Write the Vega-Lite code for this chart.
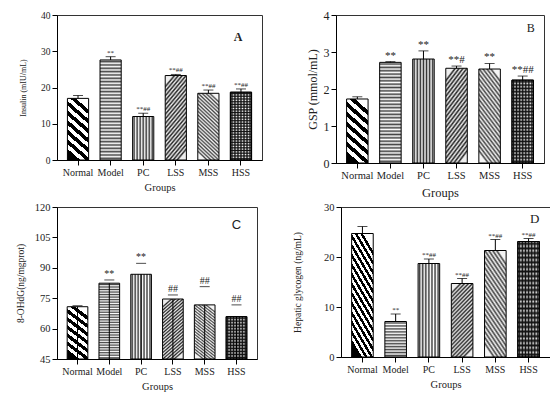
{
"$schema": "https://vega.github.io/schema/vega-lite/v6.json",
"padding": {"left": 8, "top": 8, "right": 2, "bottom": 2},
"background": "#ffffff",
"spacing": 1,
"vconcat": [
{"hconcat": [
{
"width": 205, "height": 145,
"data": {"values": [
{"group": "Normal", "value": 17.0, "upper": 17.8, "sig": ""},
{"group": "Model", "value": 27.6, "upper": 28.5, "sig": "**"},
{"group": "PC", "value": 12.0, "upper": 12.9, "sig": "**##"},
{"group": "LSS", "value": 23.3, "upper": 23.6, "sig": "**##"},
{"group": "MSS", "value": 18.4, "upper": 19.3, "sig": "**##"},
{"group": "HSS", "value": 18.7, "upper": 19.6, "sig": "**##"}
]},
"encoding": {
"x": {"field": "group", "type": "nominal", "sort": null, "scale": {"domain": ["Normal","Model","PC","LSS","MSS","HSS"], "paddingInner": 0.35, "paddingOuter": 0.32}, "axis": {"title": "Groups", "labelAngle": 0, "labelFontSize": 10, "titleFontSize": 10.5, "labelPadding": 2, "titlePadding": 5}},
"y": {"field": "value", "type": "quantitative", "scale": {"domain": [0, 40], "nice": false}, "title": [" ", "Insulin (mIU/mL)"], "axis": {"values": [0,10,20,30,40], "labelFontSize": 9.5, "titleFontSize": 8, "titleLineHeight": 11, "titlePadding": 13, "labelPadding": 2}}
},
"layer": [
{"transform": [{"filter": "datum.group === 'Normal'"}], "mark": {"type": "bar", "style": "pN"}},
{"transform": [{"filter": "datum.group === 'Model'"}], "mark": {"type": "bar", "style": "pM"}},
{"transform": [{"filter": "datum.group === 'PC'"}], "mark": {"type": "bar", "style": "pP"}},
{"transform": [{"filter": "datum.group === 'LSS'"}], "mark": {"type": "bar", "style": "pL"}},
{"transform": [{"filter": "datum.group === 'MSS'"}], "mark": {"type": "bar", "style": "pMS"}},
{"transform": [{"filter": "datum.group === 'HSS'"}], "mark": {"type": "bar", "style": "pH"}},
{"transform": [{"filter": "datum.group === 'HSS'"}], "mark": {"type": "bar", "style": "pH2"}},
{"mark": {"type": "rule", "color": "#000", "strokeWidth": 1}, "encoding": {"y2": {"field": "upper"}}},
{"mark": {"type": "tick", "color": "#000", "thickness": 1, "size": 10}, "encoding": {"y": {"field": "upper", "type": "quantitative", "scale": {"domain": [0, 40], "nice": false}, "title": [" ", "Insulin (mIU/mL)"]}}},
{"mark": {"type": "text", "baseline": "bottom", "dy": -1, "fontSize": 7, "color": "#222"}, "encoding": {"y": {"field": "upper", "type": "quantitative", "scale": {"domain": [0, 40], "nice": false}, "title": [" ", "Insulin (mIU/mL)"]}, "text": {"field": "sig"}}},
{"transform": [{"filter": "datum.group === 'HSS'"}], "mark": {"type": "text", "fontSize": 12, "fontWeight": "bold", "color": "#222", "dx": -3}, "encoding": {"y": {"datum": 33.9, "type": "quantitative", "scale": {"domain": [0, 40], "nice": false}, "title": [" ", "Insulin (mIU/mL)"]}, "text": {"value": "A"}}}
]
},
{
"width": 208, "height": 148,
"data": {"values": [
{"group": "Normal", "value": 1.73, "upper": 1.79, "sig": ""},
{"group": "Model", "value": 2.72, "upper": 2.74, "sig": "**"},
{"group": "PC", "value": 2.81, "upper": 3.03, "sig": "**"},
{"group": "LSS", "value": 2.56, "upper": 2.62, "sig": "**#"},
{"group": "MSS", "value": 2.54, "upper": 2.69, "sig": "**"},
{"group": "HSS", "value": 2.24, "upper": 2.35, "sig": "**##"}
]},
"encoding": {
"x": {"field": "group", "type": "nominal", "sort": null, "scale": {"domain": ["Normal","Model","PC","LSS","MSS","HSS"], "paddingInner": 0.35, "paddingOuter": 0.32}, "axis": {"title": "Groups", "labelAngle": 0, "labelFontSize": 10.5, "titleFontSize": 12.5, "labelPadding": 2, "titlePadding": 6}},
"y": {"field": "value", "type": "quantitative", "scale": {"domain": [0, 4], "nice": false}, "title": "GSP (mmol/mL)", "axis": {"values": [0,1,2,3,4], "labelFontSize": 12, "titleFontSize": 12, "titlePadding": 4, "labelPadding": 2}}
},
"layer": [
{"transform": [{"filter": "datum.group === 'Normal'"}], "mark": {"type": "bar", "style": "pN"}},
{"transform": [{"filter": "datum.group === 'Model'"}], "mark": {"type": "bar", "style": "pM"}},
{"transform": [{"filter": "datum.group === 'PC'"}], "mark": {"type": "bar", "style": "pP"}},
{"transform": [{"filter": "datum.group === 'LSS'"}], "mark": {"type": "bar", "style": "pL"}},
{"transform": [{"filter": "datum.group === 'MSS'"}], "mark": {"type": "bar", "style": "pMS"}},
{"transform": [{"filter": "datum.group === 'HSS'"}], "mark": {"type": "bar", "style": "pH"}},
{"transform": [{"filter": "datum.group === 'HSS'"}], "mark": {"type": "bar", "style": "pH2"}},
{"mark": {"type": "rule", "color": "#000", "strokeWidth": 1}, "encoding": {"y2": {"field": "upper"}}},
{"mark": {"type": "tick", "color": "#000", "thickness": 1, "size": 10}, "encoding": {"y": {"field": "upper", "type": "quantitative", "scale": {"domain": [0, 4], "nice": false}, "title": "GSP (mmol/mL)"}}},
{"mark": {"type": "text", "baseline": "bottom", "dy": -1, "fontSize": 11, "color": "#222"}, "encoding": {"y": {"field": "upper", "type": "quantitative", "scale": {"domain": [0, 4], "nice": false}, "title": "GSP (mmol/mL)"}, "text": {"field": "sig"}}},
{"transform": [{"filter": "datum.group === 'HSS'"}], "mark": {"type": "text", "fontSize": 12, "color": "#222", "dx": 8}, "encoding": {"y": {"datum": 3.65, "type": "quantitative", "scale": {"domain": [0, 4], "nice": false}, "title": "GSP (mmol/mL)"}, "text": {"value": "B"}}}
]
}
], "spacing": 42},
{"hconcat": [
{
"width": 200, "height": 152,
"data": {"values": [
{"group": "Normal", "value": 70.8, "upper": 71.3, "sig": ""},
{"group": "Model", "value": 82.4, "upper": 84.0, "sig": "**"},
{"group": "PC", "value": 86.8, "upper": 92.2, "sig": "**"},
{"group": "LSS", "value": 74.6, "upper": 76.6, "sig": "##"},
{"group": "MSS", "value": 71.7, "upper": 80.7, "sig": "##"},
{"group": "HSS", "value": 65.9, "upper": 71.7, "sig": "##"}
]},
"encoding": {
"x": {"field": "group", "type": "nominal", "sort": null, "scale": {"domain": ["Normal","Model","PC","LSS","MSS","HSS"], "paddingInner": 0.35, "paddingOuter": 0.32}, "axis": {"title": "Groups", "labelAngle": 0, "labelFontSize": 10, "titleFontSize": 10.5, "labelPadding": 2, "titlePadding": 5}},
"y": {"field": "value", "type": "quantitative", "scale": {"domain": [45, 120], "nice": false, "zero": false}, "title": "8-OHdG(ng/mgprot)", "axis": {"values": [45,60,75,90,105,120], "labelFontSize": 10.5, "titleFontSize": 9.5, "titlePadding": 9, "labelPadding": 2}},
"y2": {"datum": 45}
},
"layer": [
{"transform": [{"filter": "datum.group === 'Normal'"}], "mark": {"type": "bar", "style": "pN"}},
{"transform": [{"filter": "datum.group === 'Model'"}], "mark": {"type": "bar", "style": "pM"}},
{"transform": [{"filter": "datum.group === 'PC'"}], "mark": {"type": "bar", "style": "pP"}},
{"transform": [{"filter": "datum.group === 'LSS'"}], "mark": {"type": "bar", "style": "pL"}},
{"transform": [{"filter": "datum.group === 'MSS'"}], "mark": {"type": "bar", "style": "pMS"}},
{"transform": [{"filter": "datum.group === 'HSS'"}], "mark": {"type": "bar", "style": "pH"}},
{"transform": [{"filter": "datum.group === 'HSS'"}], "mark": {"type": "bar", "style": "pH2C"}},
{"mark": {"type": "rule", "color": "#000", "strokeWidth": 1}, "encoding": {"y2": {"field": "upper"}}},
{"mark": {"type": "tick", "color": "#000", "thickness": 1, "size": 10}, "encoding": {"y2": null, "y": {"field": "upper", "type": "quantitative", "scale": {"domain": [45, 120], "nice": false, "zero": false}, "title": "8-OHdG(ng/mgprot)"}}},
{"mark": {"type": "text", "baseline": "bottom", "dy": -1, "fontSize": 10, "color": "#222"}, "encoding": {"y2": null, "y": {"field": "upper", "type": "quantitative", "scale": {"domain": [45, 120], "nice": false, "zero": false}, "title": "8-OHdG(ng/mgprot)"}, "text": {"field": "sig"}}},
{"transform": [{"filter": "datum.group === 'HSS'"}], "mark": {"type": "text", "fontSize": 13, "font": "Liberation Sans", "color": "#222"}, "encoding": {"y2": null, "y": {"datum": 111, "type": "quantitative", "scale": {"domain": [45, 120], "nice": false, "zero": false}, "title": "8-OHdG(ng/mgprot)"}, "text": {"value": "C"}}}
]
},
{
"width": 209, "height": 150,
"data": {"values": [
{"group": "Normal", "value": 24.7, "upper": 26.1, "sig": ""},
{"group": "Model", "value": 7.1, "upper": 8.6, "sig": "**"},
{"group": "PC", "value": 18.7, "upper": 19.6, "sig": "**##"},
{"group": "LSS", "value": 14.7, "upper": 15.7, "sig": "**##"},
{"group": "MSS", "value": 21.3, "upper": 23.5, "sig": "**##"},
{"group": "HSS", "value": 23.1, "upper": 23.7, "sig": "**##"}
]},
"encoding": {
"x": {"field": "group", "type": "nominal", "sort": null, "scale": {"domain": ["Normal","Model","PC","LSS","MSS","HSS"], "paddingInner": 0.35, "paddingOuter": 0.32}, "axis": {"title": "Groups", "labelAngle": 0, "labelFontSize": 10, "titleFontSize": 10.5, "labelPadding": 2, "titlePadding": 5}},
"y": {"field": "value", "type": "quantitative", "scale": {"domain": [0, 30], "nice": false}, "title": "Hepatic glycogen (ng/mL)", "axis": {"values": [0,10,20,30], "labelFontSize": 10.5, "titleFontSize": 9.5, "titlePadding": 21, "labelPadding": 2}}
},
"layer": [
{"transform": [{"filter": "datum.group === 'Normal'"}], "mark": {"type": "bar", "style": "pND"}},
{"transform": [{"filter": "datum.group === 'Model'"}], "mark": {"type": "bar", "style": "pMD"}},
{"transform": [{"filter": "datum.group === 'PC'"}], "mark": {"type": "bar", "style": "pP"}},
{"transform": [{"filter": "datum.group === 'LSS'"}], "mark": {"type": "bar", "style": "pL"}},
{"transform": [{"filter": "datum.group === 'MSS'"}], "mark": {"type": "bar", "style": "pMS"}},
{"transform": [{"filter": "datum.group === 'HSS'"}], "mark": {"type": "bar", "style": "pH"}},
{"transform": [{"filter": "datum.group === 'HSS'"}], "mark": {"type": "bar", "style": "pH2"}},
{"mark": {"type": "rule", "color": "#000", "strokeWidth": 1}, "encoding": {"y2": {"field": "upper"}}},
{"mark": {"type": "tick", "color": "#000", "thickness": 1, "size": 10}, "encoding": {"y": {"field": "upper", "type": "quantitative", "scale": {"domain": [0, 30], "nice": false}, "title": "Hepatic glycogen (ng/mL)"}}},
{"mark": {"type": "text", "baseline": "bottom", "dy": -1, "fontSize": 7, "color": "#222"}, "encoding": {"y": {"field": "upper", "type": "quantitative", "scale": {"domain": [0, 30], "nice": false}, "title": "Hepatic glycogen (ng/mL)"}, "text": {"field": "sig"}}},
{"transform": [{"filter": "datum.group === 'HSS'"}], "mark": {"type": "text", "fontSize": 13, "color": "#222", "dx": 6}, "encoding": {"y": {"datum": 27.6, "type": "quantitative", "scale": {"domain": [0, 30], "nice": false}, "title": "Hepatic glycogen (ng/mL)"}, "text": {"value": "D"}}}
]
}
], "spacing": 34}
],
"config": {
"font": "Liberation Serif",
"view": {"stroke": "#333", "strokeWidth": 1},
"bar": {"stroke": "#000", "strokeWidth": 1},
"axis": {"domainColor": "#000", "tickColor": "#000", "labelColor": "#222", "titleColor": "#222", "grid": false, "tickSize": 5, "labelFont": "Liberation Serif", "titleFont": "Liberation Serif", "titleFontWeight": "normal"},
"style": {
"pN": {"color": {"gradient": "linear", "x1": 0.35, "y1": 1, "x2": 0.65, "y2": 0, "stops": [{"offset":0,"color":"#000"},{"offset":0.0714,"color":"#000"},{"offset":0.0714,"color":"#fff"},{"offset":0.1429,"color":"#fff"},{"offset":0.1429,"color":"#000"},{"offset":0.2143,"color":"#000"},{"offset":0.2143,"color":"#fff"},{"offset":0.2857,"color":"#fff"},{"offset":0.2857,"color":"#000"},{"offset":0.3571,"color":"#000"},{"offset":0.3571,"color":"#fff"},{"offset":0.4286,"color":"#fff"},{"offset":0.4286,"color":"#000"},{"offset":0.5,"color":"#000"},{"offset":0.5,"color":"#fff"},{"offset":0.5714,"color":"#fff"},{"offset":0.5714,"color":"#000"},{"offset":0.6429,"color":"#000"},{"offset":0.6429,"color":"#fff"},{"offset":0.7143,"color":"#fff"},{"offset":0.7143,"color":"#000"},{"offset":0.7857,"color":"#000"},{"offset":0.7857,"color":"#fff"},{"offset":0.8571,"color":"#fff"},{"offset":0.8571,"color":"#000"},{"offset":0.9286,"color":"#000"},{"offset":0.9286,"color":"#fff"},{"offset":1,"color":"#fff"}]}},
"pND": {"color": {"gradient": "linear", "x1": 0.35, "y1": 1, "x2": 0.65, "y2": 0, "stops": [{"offset":0,"color":"#000"},{"offset":0.0357,"color":"#000"},{"offset":0.0357,"color":"#fff"},{"offset":0.0714,"color":"#fff"},{"offset":0.0714,"color":"#000"},{"offset":0.1071,"color":"#000"},{"offset":0.1071,"color":"#fff"},{"offset":0.1429,"color":"#fff"},{"offset":0.1429,"color":"#000"},{"offset":0.1786,"color":"#000"},{"offset":0.1786,"color":"#fff"},{"offset":0.2143,"color":"#fff"},{"offset":0.2143,"color":"#000"},{"offset":0.25,"color":"#000"},{"offset":0.25,"color":"#fff"},{"offset":0.2857,"color":"#fff"},{"offset":0.2857,"color":"#000"},{"offset":0.3214,"color":"#000"},{"offset":0.3214,"color":"#fff"},{"offset":0.3571,"color":"#fff"},{"offset":0.3571,"color":"#000"},{"offset":0.3929,"color":"#000"},{"offset":0.3929,"color":"#fff"},{"offset":0.4286,"color":"#fff"},{"offset":0.4286,"color":"#000"},{"offset":0.4643,"color":"#000"},{"offset":0.4643,"color":"#fff"},{"offset":0.5,"color":"#fff"},{"offset":0.5,"color":"#000"},{"offset":0.5357,"color":"#000"},{"offset":0.5357,"color":"#fff"},{"offset":0.5714,"color":"#fff"},{"offset":0.5714,"color":"#000"},{"offset":0.6071,"color":"#000"},{"offset":0.6071,"color":"#fff"},{"offset":0.6429,"color":"#fff"},{"offset":0.6429,"color":"#000"},{"offset":0.6786,"color":"#000"},{"offset":0.6786,"color":"#fff"},{"offset":0.7143,"color":"#fff"},{"offset":0.7143,"color":"#000"},{"offset":0.75,"color":"#000"},{"offset":0.75,"color":"#fff"},{"offset":0.7857,"color":"#fff"},{"offset":0.7857,"color":"#000"},{"offset":0.8214,"color":"#000"},{"offset":0.8214,"color":"#fff"},{"offset":0.8571,"color":"#fff"},{"offset":0.8571,"color":"#000"},{"offset":0.8929,"color":"#000"},{"offset":0.8929,"color":"#fff"},{"offset":0.9286,"color":"#fff"},{"offset":0.9286,"color":"#000"},{"offset":0.9643,"color":"#000"},{"offset":0.9643,"color":"#fff"},{"offset":1,"color":"#fff"}]}},
"pM": {"color": {"gradient": "linear", "x1": 0, "y1": 0, "x2": 0, "y2": 1, "stops": [{"offset":0,"color":"#fff"},{"offset":0.0167,"color":"#444"},{"offset":0.0333,"color":"#fff"},{"offset":0.05,"color":"#444"},{"offset":0.0667,"color":"#fff"},{"offset":0.0833,"color":"#444"},{"offset":0.1,"color":"#fff"},{"offset":0.1167,"color":"#444"},{"offset":0.1333,"color":"#fff"},{"offset":0.15,"color":"#444"},{"offset":0.1667,"color":"#fff"},{"offset":0.1833,"color":"#444"},{"offset":0.2,"color":"#fff"},{"offset":0.2167,"color":"#444"},{"offset":0.2333,"color":"#fff"},{"offset":0.25,"color":"#444"},{"offset":0.2667,"color":"#fff"},{"offset":0.2833,"color":"#444"},{"offset":0.3,"color":"#fff"},{"offset":0.3167,"color":"#444"},{"offset":0.3333,"color":"#fff"},{"offset":0.35,"color":"#444"},{"offset":0.3667,"color":"#fff"},{"offset":0.3833,"color":"#444"},{"offset":0.4,"color":"#fff"},{"offset":0.4167,"color":"#444"},{"offset":0.4333,"color":"#fff"},{"offset":0.45,"color":"#444"},{"offset":0.4667,"color":"#fff"},{"offset":0.4833,"color":"#444"},{"offset":0.5,"color":"#fff"},{"offset":0.5167,"color":"#444"},{"offset":0.5333,"color":"#fff"},{"offset":0.55,"color":"#444"},{"offset":0.5667,"color":"#fff"},{"offset":0.5833,"color":"#444"},{"offset":0.6,"color":"#fff"},{"offset":0.6167,"color":"#444"},{"offset":0.6333,"color":"#fff"},{"offset":0.65,"color":"#444"},{"offset":0.6667,"color":"#fff"},{"offset":0.6833,"color":"#444"},{"offset":0.7,"color":"#fff"},{"offset":0.7167,"color":"#444"},{"offset":0.7333,"color":"#fff"},{"offset":0.75,"color":"#444"},{"offset":0.7667,"color":"#fff"},{"offset":0.7833,"color":"#444"},{"offset":0.8,"color":"#fff"},{"offset":0.8167,"color":"#444"},{"offset":0.8333,"color":"#fff"},{"offset":0.85,"color":"#444"},{"offset":0.8667,"color":"#fff"},{"offset":0.8833,"color":"#444"},{"offset":0.9,"color":"#fff"},{"offset":0.9167,"color":"#444"},{"offset":0.9333,"color":"#fff"},{"offset":0.95,"color":"#444"},{"offset":0.9667,"color":"#fff"},{"offset":0.9833,"color":"#444"},{"offset":1,"color":"#fff"}]}},
"pMD": {"color": {"gradient": "linear", "x1": 0, "y1": 0, "x2": 0, "y2": 1, "stops": [{"offset":0,"color":"#fff"},{"offset":0.0417,"color":"#444"},{"offset":0.0833,"color":"#fff"},{"offset":0.125,"color":"#444"},{"offset":0.1667,"color":"#fff"},{"offset":0.2083,"color":"#444"},{"offset":0.25,"color":"#fff"},{"offset":0.2917,"color":"#444"},{"offset":0.3333,"color":"#fff"},{"offset":0.375,"color":"#444"},{"offset":0.4167,"color":"#fff"},{"offset":0.4583,"color":"#444"},{"offset":0.5,"color":"#fff"},{"offset":0.5417,"color":"#444"},{"offset":0.5833,"color":"#fff"},{"offset":0.625,"color":"#444"},{"offset":0.6667,"color":"#fff"},{"offset":0.7083,"color":"#444"},{"offset":0.75,"color":"#fff"},{"offset":0.7917,"color":"#444"},{"offset":0.8333,"color":"#fff"},{"offset":0.875,"color":"#444"},{"offset":0.9167,"color":"#fff"},{"offset":0.9583,"color":"#444"},{"offset":1,"color":"#fff"}]}},
"pP": {"color": {"gradient": "linear", "x1": 0, "y1": 0, "x2": 1, "y2": 0, "stops": [{"offset":0,"color":"#fff"},{"offset":0.0714,"color":"#333"},{"offset":0.1429,"color":"#fff"},{"offset":0.2143,"color":"#333"},{"offset":0.2857,"color":"#fff"},{"offset":0.3571,"color":"#333"},{"offset":0.4286,"color":"#fff"},{"offset":0.5,"color":"#333"},{"offset":0.5714,"color":"#fff"},{"offset":0.6429,"color":"#333"},{"offset":0.7143,"color":"#fff"},{"offset":0.7857,"color":"#333"},{"offset":0.8571,"color":"#fff"},{"offset":0.9286,"color":"#333"},{"offset":1,"color":"#fff"}]}},
"pH": {"color": {"gradient": "linear", "x1": 0, "y1": 0, "x2": 1, "y2": 0, "stops": [{"offset":0,"color":"#fff"},{"offset":0.0714,"color":"#111"},{"offset":0.1429,"color":"#fff"},{"offset":0.2143,"color":"#111"},{"offset":0.2857,"color":"#fff"},{"offset":0.3571,"color":"#111"},{"offset":0.4286,"color":"#fff"},{"offset":0.5,"color":"#111"},{"offset":0.5714,"color":"#fff"},{"offset":0.6429,"color":"#111"},{"offset":0.7143,"color":"#fff"},{"offset":0.7857,"color":"#111"},{"offset":0.8571,"color":"#fff"},{"offset":0.9286,"color":"#111"},{"offset":1,"color":"#fff"}]}},
"pH2": {"color": {"gradient": "linear", "x1": 0, "y1": 0, "x2": 0, "y2": 1, "stops": [{"offset":0,"color":"rgba(17,17,17,0)"},{"offset":0.02,"color":"#111"},{"offset":0.04,"color":"rgba(17,17,17,0)"},{"offset":0.06,"color":"#111"},{"offset":0.08,"color":"rgba(17,17,17,0)"},{"offset":0.1,"color":"#111"},{"offset":0.12,"color":"rgba(17,17,17,0)"},{"offset":0.14,"color":"#111"},{"offset":0.16,"color":"rgba(17,17,17,0)"},{"offset":0.18,"color":"#111"},{"offset":0.2,"color":"rgba(17,17,17,0)"},{"offset":0.22,"color":"#111"},{"offset":0.24,"color":"rgba(17,17,17,0)"},{"offset":0.26,"color":"#111"},{"offset":0.28,"color":"rgba(17,17,17,0)"},{"offset":0.3,"color":"#111"},{"offset":0.32,"color":"rgba(17,17,17,0)"},{"offset":0.34,"color":"#111"},{"offset":0.36,"color":"rgba(17,17,17,0)"},{"offset":0.38,"color":"#111"},{"offset":0.4,"color":"rgba(17,17,17,0)"},{"offset":0.42,"color":"#111"},{"offset":0.44,"color":"rgba(17,17,17,0)"},{"offset":0.46,"color":"#111"},{"offset":0.48,"color":"rgba(17,17,17,0)"},{"offset":0.5,"color":"#111"},{"offset":0.52,"color":"rgba(17,17,17,0)"},{"offset":0.54,"color":"#111"},{"offset":0.56,"color":"rgba(17,17,17,0)"},{"offset":0.58,"color":"#111"},{"offset":0.6,"color":"rgba(17,17,17,0)"},{"offset":0.62,"color":"#111"},{"offset":0.64,"color":"rgba(17,17,17,0)"},{"offset":0.66,"color":"#111"},{"offset":0.68,"color":"rgba(17,17,17,0)"},{"offset":0.7,"color":"#111"},{"offset":0.72,"color":"rgba(17,17,17,0)"},{"offset":0.74,"color":"#111"},{"offset":0.76,"color":"rgba(17,17,17,0)"},{"offset":0.78,"color":"#111"},{"offset":0.8,"color":"rgba(17,17,17,0)"},{"offset":0.82,"color":"#111"},{"offset":0.84,"color":"rgba(17,17,17,0)"},{"offset":0.86,"color":"#111"},{"offset":0.88,"color":"rgba(17,17,17,0)"},{"offset":0.9,"color":"#111"},{"offset":0.92,"color":"rgba(17,17,17,0)"},{"offset":0.94,"color":"#111"},{"offset":0.96,"color":"rgba(17,17,17,0)"},{"offset":0.98,"color":"#111"},{"offset":1,"color":"rgba(17,17,17,0)"}]}},
"pH2C": {"color": {"gradient": "linear", "x1": 0, "y1": 0, "x2": 0, "y2": 1, "stops": [{"offset":0,"color":"rgba(17,17,17,0)"},{"offset":0.0357,"color":"#111"},{"offset":0.0714,"color":"rgba(17,17,17,0)"},{"offset":0.1071,"color":"#111"},{"offset":0.1429,"color":"rgba(17,17,17,0)"},{"offset":0.1786,"color":"#111"},{"offset":0.2143,"color":"rgba(17,17,17,0)"},{"offset":0.25,"color":"#111"},{"offset":0.2857,"color":"rgba(17,17,17,0)"},{"offset":0.3214,"color":"#111"},{"offset":0.3571,"color":"rgba(17,17,17,0)"},{"offset":0.3929,"color":"#111"},{"offset":0.4286,"color":"rgba(17,17,17,0)"},{"offset":0.4643,"color":"#111"},{"offset":0.5,"color":"rgba(17,17,17,0)"},{"offset":0.5357,"color":"#111"},{"offset":0.5714,"color":"rgba(17,17,17,0)"},{"offset":0.6071,"color":"#111"},{"offset":0.6429,"color":"rgba(17,17,17,0)"},{"offset":0.6786,"color":"#111"},{"offset":0.7143,"color":"rgba(17,17,17,0)"},{"offset":0.75,"color":"#111"},{"offset":0.7857,"color":"rgba(17,17,17,0)"},{"offset":0.8214,"color":"#111"},{"offset":0.8571,"color":"rgba(17,17,17,0)"},{"offset":0.8929,"color":"#111"},{"offset":0.9286,"color":"rgba(17,17,17,0)"},{"offset":0.9643,"color":"#111"},{"offset":1,"color":"rgba(17,17,17,0)"}]}},
"pL": {"color": {"gradient": "linear", "x1": 0.35, "y1": 0, "x2": 0.65, "y2": 1, "stops": [{"offset":0,"color":"#eee"},{"offset":0.025,"color":"#222"},{"offset":0.05,"color":"#eee"},{"offset":0.075,"color":"#222"},{"offset":0.1,"color":"#eee"},{"offset":0.125,"color":"#222"},{"offset":0.15,"color":"#eee"},{"offset":0.175,"color":"#222"},{"offset":0.2,"color":"#eee"},{"offset":0.225,"color":"#222"},{"offset":0.25,"color":"#eee"},{"offset":0.275,"color":"#222"},{"offset":0.3,"color":"#eee"},{"offset":0.325,"color":"#222"},{"offset":0.35,"color":"#eee"},{"offset":0.375,"color":"#222"},{"offset":0.4,"color":"#eee"},{"offset":0.425,"color":"#222"},{"offset":0.45,"color":"#eee"},{"offset":0.475,"color":"#222"},{"offset":0.5,"color":"#eee"},{"offset":0.525,"color":"#222"},{"offset":0.55,"color":"#eee"},{"offset":0.575,"color":"#222"},{"offset":0.6,"color":"#eee"},{"offset":0.625,"color":"#222"},{"offset":0.65,"color":"#eee"},{"offset":0.675,"color":"#222"},{"offset":0.7,"color":"#eee"},{"offset":0.725,"color":"#222"},{"offset":0.75,"color":"#eee"},{"offset":0.775,"color":"#222"},{"offset":0.8,"color":"#eee"},{"offset":0.825,"color":"#222"},{"offset":0.85,"color":"#eee"},{"offset":0.875,"color":"#222"},{"offset":0.9,"color":"#eee"},{"offset":0.925,"color":"#222"},{"offset":0.95,"color":"#eee"},{"offset":0.975,"color":"#222"},{"offset":1,"color":"#eee"}]}},
"pMS": {"color": {"gradient": "linear", "x1": 0.35, "y1": 1, "x2": 0.65, "y2": 0, "stops": [{"offset":0,"color":"#f4f4f4"},{"offset":0.025,"color":"#444"},{"offset":0.05,"color":"#f4f4f4"},{"offset":0.075,"color":"#444"},{"offset":0.1,"color":"#f4f4f4"},{"offset":0.125,"color":"#444"},{"offset":0.15,"color":"#f4f4f4"},{"offset":0.175,"color":"#444"},{"offset":0.2,"color":"#f4f4f4"},{"offset":0.225,"color":"#444"},{"offset":0.25,"color":"#f4f4f4"},{"offset":0.275,"color":"#444"},{"offset":0.3,"color":"#f4f4f4"},{"offset":0.325,"color":"#444"},{"offset":0.35,"color":"#f4f4f4"},{"offset":0.375,"color":"#444"},{"offset":0.4,"color":"#f4f4f4"},{"offset":0.425,"color":"#444"},{"offset":0.45,"color":"#f4f4f4"},{"offset":0.475,"color":"#444"},{"offset":0.5,"color":"#f4f4f4"},{"offset":0.525,"color":"#444"},{"offset":0.55,"color":"#f4f4f4"},{"offset":0.575,"color":"#444"},{"offset":0.6,"color":"#f4f4f4"},{"offset":0.625,"color":"#444"},{"offset":0.65,"color":"#f4f4f4"},{"offset":0.675,"color":"#444"},{"offset":0.7,"color":"#f4f4f4"},{"offset":0.725,"color":"#444"},{"offset":0.75,"color":"#f4f4f4"},{"offset":0.775,"color":"#444"},{"offset":0.8,"color":"#f4f4f4"},{"offset":0.825,"color":"#444"},{"offset":0.85,"color":"#f4f4f4"},{"offset":0.875,"color":"#444"},{"offset":0.9,"color":"#f4f4f4"},{"offset":0.925,"color":"#444"},{"offset":0.95,"color":"#f4f4f4"},{"offset":0.975,"color":"#444"},{"offset":1,"color":"#f4f4f4"}]}}
}
}
}
